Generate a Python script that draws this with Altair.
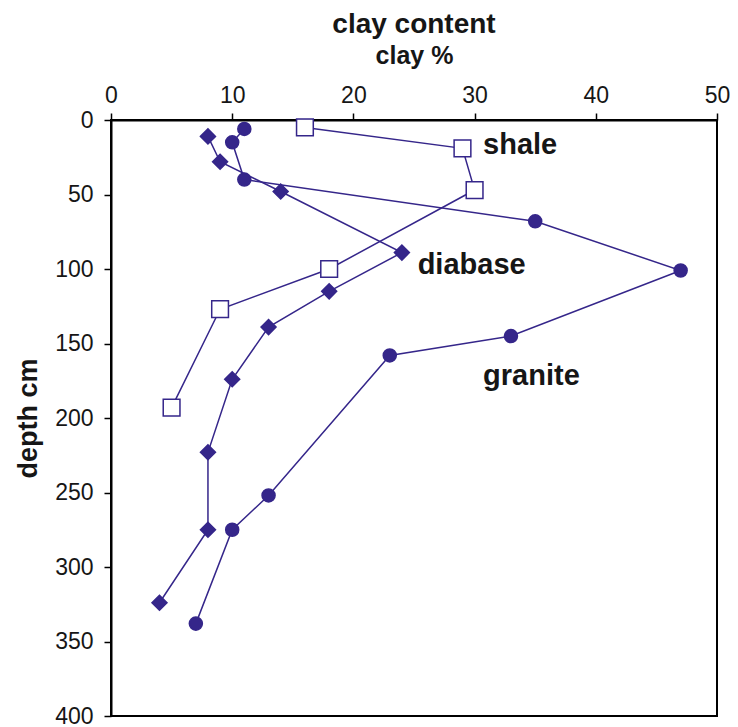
import altair as alt
import pandas as pd

COLOR = "#35268a"
FONT = "Liberation Sans"

# data
granite_clay = [11, 10, 11, 35, 47, 33, 23, 13, 10, 7]
granite_depth = [6, 15, 40, 68, 101, 145, 158, 252, 275, 338]
diabase_clay = [8, 9, 14, 24, 18, 13, 10, 8, 8, 4]
diabase_depth = [11, 28, 48, 89, 115, 139, 174, 223, 275, 324]
shale_clay = [16, 29, 30, 18, 9, 5]
shale_depth = [5, 19, 47, 100, 127, 193]

label_text = ["shale", "diabase", "granite"]
label_clay = [30.7, 25.3, 30.7]
label_depth = [17, 97, 172]

rows = []
for rock, xs, ys in [("granite", granite_clay, granite_depth),
                     ("diabase", diabase_clay, diabase_depth),
                     ("shale", shale_clay, shale_depth)]:
    for x, y in zip(xs, ys):
        rows.append({"rock": rock, "clay": x, "depth": y})
df = pd.DataFrame(rows)
labels = pd.DataFrame({"text": label_text, "clay": label_clay, "depth": label_depth})

x_enc = alt.X("clay:Q", scale=alt.Scale(domain=[0, 50], nice=False),
              axis=alt.Axis(orient="top", values=[0, 10, 20, 30, 40, 50], title="clay %",
                            titleFontSize=25, titleFontWeight="bold", titleY=-57,
                            titleBaseline="alphabetic", labelPadding=6, labelFlush=False))
y_enc = alt.Y("depth:Q", scale=alt.Scale(domain=[0, 400], reverse=True, nice=False),
              axis=alt.Axis(values=list(range(0, 401, 50)), title="depth cm",
                            titleFontSize=27, titleFontWeight="bold", titlePadding=12,
                            labelPadding=11, labelFlush=False))

base = alt.Chart(df)
lines = base.mark_line(color=COLOR, strokeWidth=1.5).encode(
    x=x_enc, y=y_enc, detail="rock:N", order="depth:Q")

pts = base.mark_point(filled=False, opacity=1, strokeWidth=1.5).encode(
    x="clay:Q", y="depth:Q",
    shape=alt.Shape("rock:N", scale=alt.Scale(domain=["granite", "diabase", "shale"],
                                               range=["circle", "diamond", "square"]), legend=None),
    fill=alt.Fill("rock:N", scale=alt.Scale(domain=["granite", "diabase", "shale"],
                                             range=[COLOR, COLOR, "white"]), legend=None),
    size=alt.Size("rock:N", scale=alt.Scale(domain=["granite", "diabase", "shale"],
                                             range=[170, 280, 144]), legend=None),
    color=alt.value(COLOR),
)

txt = alt.Chart(labels).mark_text(align="left", baseline="middle", font=FONT,
                                  fontSize=29, fontWeight="bold", color="#161616").encode(
    x="clay:Q", y="depth:Q", text="text:N")

chart = alt.layer(lines, pts, txt).properties(
    width=606, height=596,
    autosize=alt.AutoSizeParams(type="none"),
    padding={"left": 103, "top": 112, "right": 13, "bottom": 12},
    title=alt.TitleParams("clay content", fontSize=28, fontWeight="bold", font=FONT,
                          color="#161616", anchor="middle", offset=4),
).configure_view(stroke="black", strokeWidth=2).configure_axis(
    grid=False, domainColor="black", domainWidth=2, tickColor="black", tickSize=7,
    tickWidth=1.5, labelFont=FONT, labelFontSize=23, labelColor="#161616",
    titleFont=FONT, titleColor="#161616",
)

chart.save("out.html", embed_options={"renderer": "svg", "actions": False})
